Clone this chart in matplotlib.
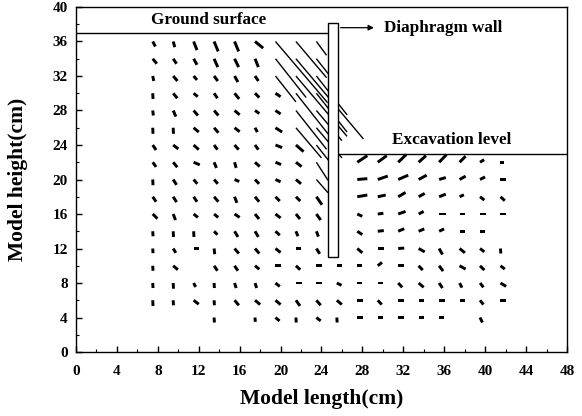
import numpy as np
import matplotlib
matplotlib.use("Agg")
import matplotlib.pyplot as plt
from matplotlib.ticker import MultipleLocator

n = np.nan
cols = [7.5, 9.5, 11.5, 13.5, 15.5, 17.5, 19.5, 21.5, 23.5, 25.5,
        27.5, 29.5, 31.5, 33.5, 35.5, 37.5, 39.5, 41.5]
rows = [36, 34, 32, 30, 28, 26, 24, 22, 20, 18, 16, 14, 12, 10, 8, 6, 4]

# horizontal displacement (cm on plot), one list per row, one entry per column
U = [
    [.26, .16, .33, .40, .40, .80, 5.1, 3.0, 1.0, n, n, n, n, n, n, n, n, n],
    [.40, .33, .33, .36, .40, .33, 3.0, 6.6, 2.0, n, n, n, n, n, n, n, n, n],
    [.10, .42, .33, .36, .33, .33, 2.0, 5.0, 3.0, n, n, n, n, n, n, n, n, n],
    [.03, .40, .40, .33, .45, .42, .50, 4.0, 3.0, n, n, n, n, n, n, n, n, n],
    [.06, .26, .42, .42, .50, .42, .50, 3.0, 2.5, n, n, n, n, n, n, n, n, n],
    [.03, .03, .50, .42, .50, .23, .65, 2.5, 2.5, n, n, n, n, n, n, n, n, n],
    [.33, .50, .50, .33, .40, .33, .65, .75, 2.0, n, n, n, n, n, n, n, n, n],
    [.33, .40, .60, .23, .16, .46, .55, .55, 1.14, n, .98, .88, .78, .72, .72, .59, .40, .33],
    [.03, .33, .36, .36, .46, .40, .50, .50, 1.14, n, .98, .98, .98, .78, .65, .59, .49, .49],
    [.33, .33, .33, .42, .23, .40, .42, .42, .55, n, .98, .78, .72, .59, .65, .42, .42, .42],
    [.46, .23, .42, .40, .50, .40, .50, .40, .42, n, .49, .55, .72, .49, .65, .49, .59, .49],
    [.03, .03, .03, .33, .33, .33, .42, .20, .20, n, .49, .59, .59, .55, .49, .50, .50, n],
    [.03, .26, .55, .06, .42, .42, .50, .50, .33, n, .49, .59, .59, .59, .33, .52, .42, .03],
    [.03, .46, n, .33, .33, .42, .55, .42, .55, .50, .50, .42, .55, .39, .39, .59, .42, .42],
    [.03, .03, .20, .03, .16, .16, .42, .60, .55, .46, .50, .50, .39, .49, .33, .23, .33, .55],
    [.03, .03, .50, .03, .42, .50, .50, .40, .42, .49, .55, .39, .55, .55, .62, .49, .33, .55],
    [n, n, n, .03, n, .03, .40, .03, .42, .03, .55, .55, .55, .55, .46, n, .23, n],
]
# vertical displacement (cm on plot)
V = [
    [-.58, -.66, -1.0, -1.15, -1.15, -.77, -7.1, -4.2, -1.6, n, n, n, n, n, n, n, n, n],
    [-.58, -.58, -.70, -.97, -.97, -.97, -4.5, -9.3, -3.0, n, n, n, n, n, n, n, n, n],
    [-.58, -.58, -.46, -.58, -.70, -.58, -3.0, -7.0, -4.5, n, n, n, n, n, n, n, n, n],
    [-.66, -.58, -.40, -.58, -.66, -.50, -.40, -6.0, -4.5, n, n, n, n, n, n, n, n, n],
    [-.58, -.70, -.58, -.58, -.50, -.35, -.40, -4.5, -3.5, n, n, n, n, n, n, n, n, n],
    [-.70, -.70, -.50, -.58, -.46, -.50, -.50, -3.5, -3.5, n, n, n, n, n, n, n, n, n],
    [-.58, -.46, -.54, -.54, -.54, -.54, -.30, -.77, -3.0, n, n, n, n, n, n, n, n, n],
    [-.54, -.58, -.30, -.66, -.66, -.50, -.27, -.50, -2.1, n, .77, .77, .89, .77, .89, .70, .30, 0],
    [-.66, -.62, -.50, -.50, -.23, -.50, -.27, -.50, -1.54, n, .10, .40, .50, .50, .23, .39, .30, 0],
    [-.58, -.62, -.58, -.58, -.70, -.58, -.50, -.50, -.93, n, .20, .20, .50, .39, .30, .23, -.39, -.46],
    [-.54, -.70, -.40, -.40, -.40, -.58, -.46, -.58, -.70, n, -.27, .08, .30, .30, 0, 0, 0, 0],
    [-.58, -.66, -.66, -.40, -.66, -.66, -.46, -.58, -.62, n, -.39, .08, .30, .27, .27, 0, 0, n],
    [-.54, -.50, 0, -.66, -.58, -.58, -.46, 0, -.62, n, -.50, 0, .05, -.39, -.70, -.50, -.39, -.58],
    [-.58, -.46, n, -.58, -.58, -.40, 0, -.46, 0, 0, 0, .39, 0, -.50, -.62, -.39, -.50, -.39],
    [-.58, -.66, -.46, -.58, -.58, -.58, -.40, 0, 0, -.27, 0, 0, -.50, -.50, -.58, -.54, -.50, -.39],
    [-.66, -.58, -.46, -.58, -.58, -.50, -.50, -.66, -.58, -.50, 0, -.50, 0, 0, 0, 0, -.50, 0],
    [n, n, n, -.58, n, -.50, -.40, -.58, -.39, -.58, 0, 0, 0, 0, 0, n, -.58, n],
]

ground_level = 37.0
excavation_level = 23.0
wall_x = (24.6, 25.6)
wall_y = (11.0, 38.2)

plt.rcParams['font.family'] = ['Liberation Serif', 'DejaVu Serif']
plt.rcParams['font.weight'] = 'bold'

fig = plt.figure(figsize=(5.82, 4.16), dpi=100)
ax = fig.add_axes([0.1306, 0.1538, 0.8436, 0.8294])

X, Y = np.meshgrid(cols, rows)
Ua = np.array(U, dtype=float)
Va = np.array(V, dtype=float)
mag = np.hypot(Ua, Va)
valid = ~np.isnan(Ua)
big = valid & (mag > 1.5)
small = valid & (mag <= 1.5)

ax.quiver(X[small], Y[small], Ua[small], Va[small], angles='xy', scale_units='xy',
          scale=1, pivot='tail', width=0.006, headwidth=1, headlength=0,
          headaxislength=0, color='black', zorder=3)
ax.quiver(X[big], Y[big], Ua[big], Va[big], angles='xy', scale_units='xy',
          scale=1, pivot='tail', width=0.0028, headwidth=1, headlength=0,
          headaxislength=0, color='black', zorder=3)

# ground surface & excavation level
ax.plot([0, wall_x[0]], [ground_level, ground_level], color='black', lw=1.0, zorder=4)
ax.plot([wall_x[1], 48], [excavation_level, excavation_level], color='black', lw=1.0, zorder=4)

# diaphragm wall
ax.add_patch(plt.Rectangle((wall_x[0], wall_y[0]), wall_x[1] - wall_x[0],
                           wall_y[1] - wall_y[0], facecolor='white',
                           edgecolor='black', lw=1.0, zorder=5))

ax.annotate('', xy=(29.4, 37.6), xytext=(wall_x[1], 37.6),
            arrowprops=dict(arrowstyle='-|>', color='black', lw=0.9,
                            mutation_scale=8), zorder=6)
ax.text(30.1, 37.6, 'Diaphragm wall', fontsize=12.3, va='center', ha='left', weight='bold')
ax.text(7.3, 38.5, 'Ground surface', fontsize=12.3, va='center', ha='left', weight='bold')
ax.text(30.9, 24.6, 'Excavation level', fontsize=12.3, va='center', ha='left', weight='bold')

ax.set_xlim(0, 48)
ax.set_ylim(0, 40)
ax.xaxis.set_major_locator(MultipleLocator(4))
ax.xaxis.set_minor_locator(MultipleLocator(2))
ax.yaxis.set_major_locator(MultipleLocator(4))
ax.yaxis.set_minor_locator(MultipleLocator(2))
ax.tick_params(which='both', direction='in', top=False, right=False, labelsize=11)
ax.tick_params(axis='x', which='major', pad=9)
ax.tick_params(axis='y', which='major', pad=6)
ax.tick_params(which='major', length=4, width=1)
ax.tick_params(which='minor', length=2, width=0.8)
for lab in ax.get_xticklabels() + ax.get_yticklabels():
    lab.set_fontweight('bold')
for s in ax.spines.values():
    s.set_linewidth(1.0)

ax.set_xlabel('Model length(cm)', fontsize=15.5, weight='bold')
ax.set_ylabel('Model height(cm)', fontsize=15.5, weight='bold')
ax.xaxis.set_label_coords(0.5, -0.108)
ax.yaxis.set_label_coords(-0.098, 0.5)

fig.savefig('out.png', dpi=100)
